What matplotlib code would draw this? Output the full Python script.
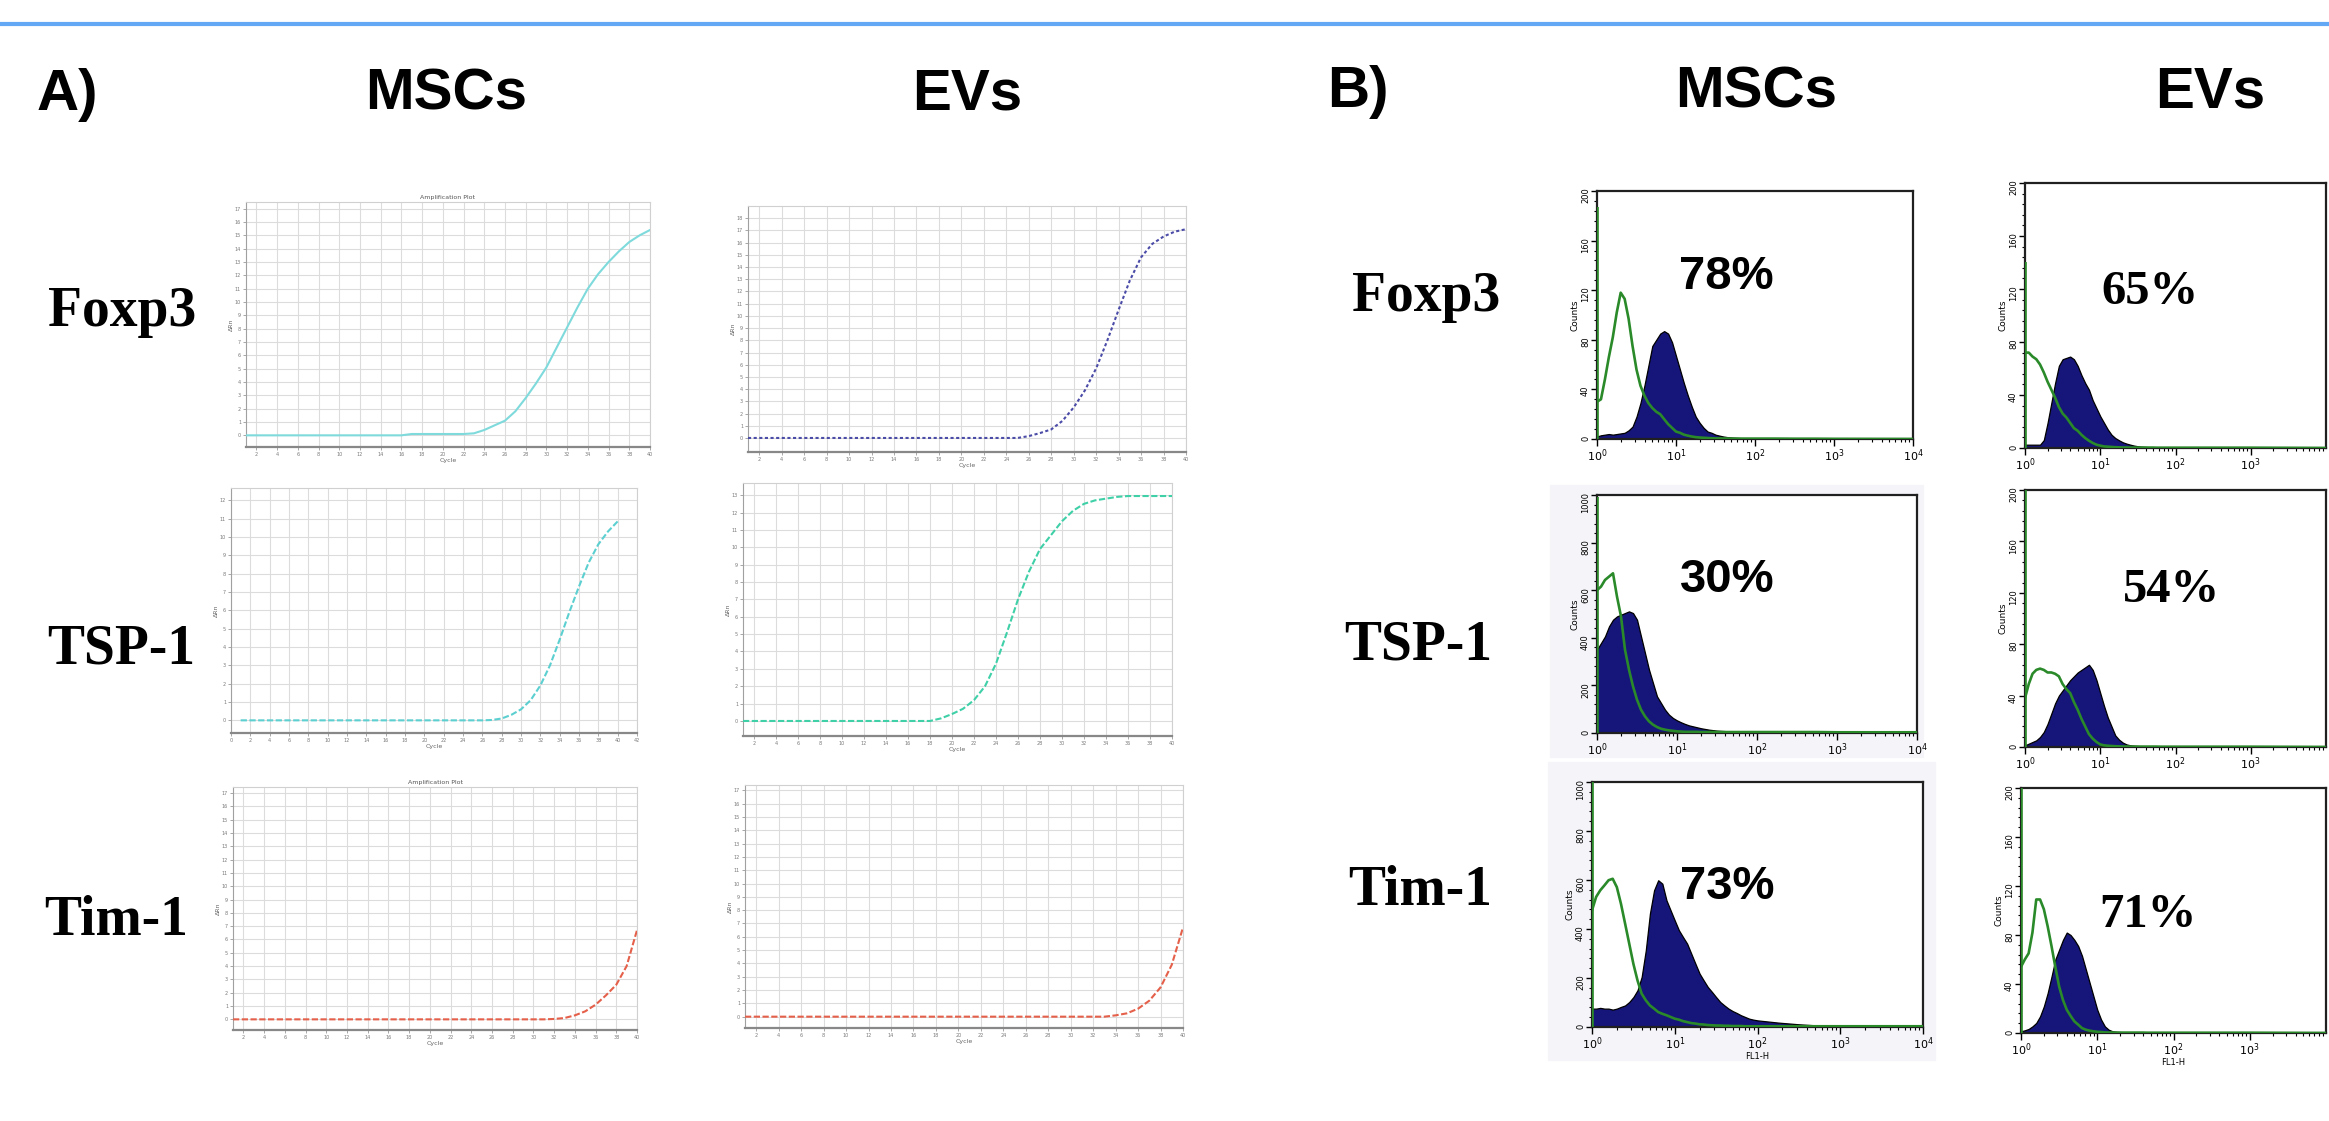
import numpy as np
import matplotlib
matplotlib.use("Agg")
import matplotlib.pyplot as plt
from matplotlib.patches import Rectangle
from matplotlib.ticker import FixedLocator, LogLocator, NullFormatter

W, H = 2329, 1121

genes = ["Foxp3", "TSP-1", "Tim-1"]
sources = ["MSCs", "EVs"]

# ---- A) qPCR amplification plots: delta Rn per cycle (in gridline units) ----
cycles = np.arange(1, 41)

foxp3_msc_rn = [0] * 16 + [0.1] * 6 + [0.15, 0.4, 0.75, 1.1, 1.8, 2.8, 3.9, 5.1, 6.6,
                                       8.1, 9.6, 11.0, 12.1, 13.0, 13.8, 14.5, 15.0, 15.4]
foxp3_ev_rn = [0] * 25 + [0.15, 0.4, 0.7, 1.4, 2.5, 3.9, 5.7, 8.0, 10.5, 12.9,
                          14.8, 15.9, 16.5, 16.9, 17.1]
tsp1_msc_rn = [0] * 26 + [0.02, 0.1, 0.3, 0.6, 1.1, 1.9, 3.0, 4.4, 5.9, 7.3,
                          8.6, 9.6, 10.3, 10.85]
tsp1_ev_rn = [0] * 18 + [0.15, 0.4, 0.7, 1.2, 2.0, 3.3, 5.1, 7.0, 8.6, 9.9, 10.7,
                         11.5, 12.1, 12.5, 12.7, 12.8, 12.9] + [12.95] * 5
tim1_msc_rn = [0] * 31 + [0.03, 0.1, 0.3, 0.6, 1.1, 1.8, 2.6, 4.0, 6.7]
tim1_ev_rn = [0] * 33 + [0.1, 0.25, 0.6, 1.2, 2.2, 3.9, 6.7]

# ---- B) flow cytometry histograms: counts per log10 channel ----
log_fl = np.concatenate([np.linspace(0, 2, 41), [2.25, 2.5, 2.75, 3.0, 4.0]])

foxp3_msc_iso = [30, 32, 48, 66, 82, 102, 118, 113, 97, 75, 56, 43, 35, 29, 25, 22, 20,
                 16, 12, 9, 6, 5, 3.5, 2.7, 2, 1.5, 1.2, 1, 0.8, 0.6, 0.5, 0.5, 0.4,
                 0.4, 0.3, 0.3, 0.3, 0.3, 0.3, 0.3, 0.3, 0.3, 0.2, 0.2, 0.1, 0]
foxp3_msc_pos = [2, 3, 3.5, 4, 3.5, 4, 4.5, 5, 7, 10, 18, 29, 43, 59, 75, 80, 85, 87,
                 85, 78, 67, 56, 45, 35, 26, 18, 13, 9, 6, 5, 3.5, 2.7, 2, 1.5, 1.2,
                 1, 0.8, 0.6, 0.5, 0.3, 0.2, 0.1, 0, 0, 0, 0]
foxp3_ev_iso = [72, 72, 69, 67, 63, 57, 50, 44, 38, 31, 26, 23, 19, 15, 13, 10, 7.5,
                5.5, 3.8, 2.5, 1.8, 1.2, 1, 0.8, 0.6, 0.5, 0.4, 0.4, 0.3, 0.3, 0.3,
                0.3, 0.3, 0.3, 0.3, 0.2, 0.2, 0.2, 0.2, 0.2, 0.2, 0.2, 0.2, 0.2, 0.2, 0]
foxp3_ev_pos = [2.5, 2.5, 2.5, 2.5, 2.5, 6, 19, 34, 49, 62, 67, 68, 69, 67, 62, 55,
                49, 44, 36, 30, 24, 19, 14, 10, 7.5, 5.8, 4.3, 3.3, 2.5, 1.8, 1.3, 1,
                0.8, 0.6, 0.5, 0.4, 0.3, 0.2, 0.2, 0.1, 0.1, 0, 0, 0, 0, 0]
tsp1_msc_iso = [600, 615, 643, 657, 671, 573, 490, 350, 266, 196, 140, 98, 70, 49, 35,
                25, 18, 14, 11, 9, 7, 6, 5, 5, 5, 5, 4, 4, 4, 4, 4, 4, 4, 4, 4, 4, 4,
                4, 4, 4, 4, 4, 4, 4, 3, 3]
tsp1_msc_pos = [350, 378, 406, 448, 476, 490, 497, 504, 511, 504, 476, 406, 336, 266,
                210, 154, 126, 98, 77, 63, 53, 45, 38, 32, 28, 24, 20, 17, 14, 12, 10,
                9, 8, 7, 6, 5, 4, 4, 3, 3, 2, 1, 0.5, 0, 0, 0]
tsp1_ev_iso = [38, 49, 57, 60, 61, 60, 58, 58, 57, 55, 49, 45, 42, 35, 29, 22, 16, 10,
               6.5, 3.9, 2, 1.3, 1, 0.8, 0.6, 0.5, 0.4, 0.4, 0.3, 0.3, 0.3, 0.3, 0.3,
               0.3, 0.3, 0.3, 0.2, 0.2, 0.2, 0.2, 0.2, 0.2, 0.2, 0.2, 0.2, 0]
tsp1_ev_pos = [1.3, 2.6, 3.9, 5.2, 7.8, 11.7, 18, 26, 34, 40, 44, 48, 52, 55, 58, 60,
               62, 64, 60, 52, 42, 32, 23, 16, 9, 5.7, 3.4, 2, 1.3, 1, 0.8, 0.6, 0.5,
               0.4, 0.3, 0.3, 0.2, 0.2, 0.1, 0.1, 0.1, 0, 0, 0, 0, 0]
tim1_msc_iso = [476, 531, 558, 578, 599, 605, 571, 503, 422, 340, 258, 190, 136, 109,
                88, 75, 61, 54, 48, 41, 34, 30, 24, 20, 16, 14, 11, 10, 8, 7, 6, 6, 5,
                5, 4, 4, 4, 3, 3, 3, 3, 3, 3, 3, 3, 3]
tim1_msc_pos = [75, 75, 78, 75, 75, 71, 75, 82, 88, 102, 122, 150, 204, 313, 463, 558,
                599, 585, 517, 476, 435, 395, 367, 340, 299, 258, 218, 190, 163, 143,
                122, 102, 88, 75, 65, 57, 48, 41, 34, 30, 27, 18, 11, 6, 3, 0]
tim1_ev_iso = [54, 60, 65, 82, 109, 109, 101, 87, 71, 54, 38, 27, 19, 14, 9.5, 6.8, 4,
               2.7, 1.9, 1.4, 1, 0.8, 0.5, 0.4, 0.4, 0.3, 0.3, 0.3, 0.3, 0.3, 0.3, 0.3,
               0.3, 0.2, 0.2, 0.2, 0.2, 0.2, 0.2, 0.2, 0.2, 0.2, 0.2, 0.2, 0.2, 0]
tim1_ev_pos = [1.4, 2.2, 3.3, 5.4, 8.2, 13.6, 21.8, 32.7, 46, 60, 68, 76, 82, 80, 76,
               71, 63, 52, 41, 30, 19, 11, 5.4, 2.7, 1.4, 1, 0.8, 0.5, 0.3, 0.3, 0.2,
               0.2, 0.2, 0.1, 0.1, 0.1, 0.1, 0.1, 0.1, 0.1, 0.1, 0, 0, 0, 0, 0]

iso_spike_msc = [187, 990, 1000]
iso_spike_ev = [140, 200, 200]
pct_msc = [78, 30, 73]
pct_ev = [65, 54, 71]


def px_axes(fig, x0, y0, x1, y1):
    return fig.add_axes([x0 / W, 1 - y1 / H, (x1 - x0) / W, (y1 - y0) / H])


def qpcr_panel(fig, box, values, xlim, ylim, color, ls, title=None):
    ax = px_axes(fig, *box)
    ax.plot(cycles, values, color=color, lw=1.5, linestyle=ls, zorder=3)
    ax.set_xlim(xlim)
    ax.set_ylim(ylim)
    xt = np.arange(np.ceil(xlim[0] / 2) * 2, xlim[1] + 0.1, 2)
    ax.xaxis.set_major_locator(FixedLocator(xt))
    ax.yaxis.set_major_locator(FixedLocator(np.arange(0, ylim[1], 1)))
    ax.set_xticklabels([f"{int(v)}" for v in xt])
    ax.grid(True, color="#dcdcdc", lw=0.8)
    ax.set_axisbelow(True)
    ax.tick_params(labelsize=3.5, labelcolor="#7a7a7a", length=2,
                   color="#999999", width=0.6, pad=1.5)
    for side in ["top", "right"]:
        ax.spines[side].set_color("#d0d0d0")
    ax.spines["left"].set_color("#a0a0a0")
    ax.spines["bottom"].set_color("#888888")
    ax.spines["bottom"].set_linewidth(1.6)
    ax.set_xlabel("Cycle", fontsize=4.5, color="#666666", labelpad=1)
    ax.set_ylabel("ΔRn", fontsize=4.5, color="#666666", labelpad=1)
    if title:
        ax.set_title(title, fontsize=4.5, color="#555555", pad=2)
    return ax


def flow_panel(fig, box, iso, pos, spike, ymax, pct, serif, xlabel=False):
    ax = px_axes(fig, *box)
    x = 10 ** log_fl
    ax.fill_between(x, pos, color="#15157a", edgecolor="#000000", lw=0.9, zorder=2)
    ax.plot(x, iso, color="#2a8a2a", lw=1.9, zorder=3)
    ax.vlines(1.0, 0, spike, color="#2a8a2a", lw=2.6, zorder=4)
    ax.set_xscale("log")
    ax.set_xlim(1, 1e4)
    ax.set_ylim(0, ymax)
    ax.yaxis.set_major_locator(FixedLocator(np.linspace(0, ymax, 6)))
    ax.yaxis.set_minor_locator(FixedLocator(np.linspace(0, ymax, 26)))
    if serif:
        # EV panels run off the right edge of the figure: no 10^4 label
        ax.xaxis.set_major_locator(FixedLocator([1, 10, 100, 1000]))
    else:
        ax.xaxis.set_major_locator(LogLocator(base=10, numticks=6))
    ax.xaxis.set_minor_locator(LogLocator(base=10, subs=np.arange(2, 10), numticks=20))
    ax.xaxis.set_minor_formatter(NullFormatter())
    ax.tick_params(axis="y", labelsize=6, labelrotation=90, length=4, width=1, pad=1)
    ax.tick_params(axis="x", labelsize=8, length=5, width=1, pad=1)
    ax.tick_params(which="minor", length=2.5, width=0.8)
    for s in ax.spines.values():
        s.set_linewidth(1.6)
        s.set_color("#202020")
    ax.set_ylabel("Counts", fontsize=6.5, labelpad=1)
    if xlabel:
        ax.set_xlabel("FL1-H", fontsize=6, labelpad=0)
    if serif:
        ax.text(*pct[1], f"{pct[0]}%", transform=ax.transAxes, ha="center",
                va="center", fontsize=35, fontweight="bold", family="Liberation Serif")
    else:
        ax.text(*pct[1], f"{pct[0]}%", transform=ax.transAxes, ha="center",
                va="center", fontsize=34, fontweight="bold", family="Liberation Sans")
    return ax


fig = plt.figure(figsize=(W / 100, H / 100), dpi=100)
fig.patch.set_facecolor("white")

# top rule
fig.add_artist(plt.Line2D([0, 1], [1 - 24 / H, 1 - 24 / H], color="#62a8f4",
                          lw=3, transform=fig.transFigure))

# light background behind scanned MSC histograms
fig.add_artist(Rectangle((1550 / W, 1 - 757 / H), 373 / W, 272 / H,
                         transform=fig.transFigure, color="#f5f5f9", zorder=0))
fig.add_artist(Rectangle((1548 / W, 1 - 1060 / H), 387 / W, 298 / H,
                         transform=fig.transFigure, color="#f5f5f9", zorder=0))

# A) qPCR
qpcr_panel(fig, (246, 202, 650, 447), foxp3_msc_rn, (1, 40), (-0.875, 17.5),
           "#7fdadc", "-", title="Amplification Plot")
qpcr_panel(fig, (231, 488, 637, 733), tsp1_msc_rn, (0, 42), (-0.69, 12.67),
           "#5ccfd0", (0, (3, 1.2)))
qpcr_panel(fig, (233, 787, 637, 1030), tim1_msc_rn, (1, 40), (-0.8, 17.45),
           "#e5604a", (0, (3, 1.2)), title="Amplification Plot")
qpcr_panel(fig, (748, 206, 1186, 452), foxp3_ev_rn, (1, 40), (-1.15, 19.0),
           "#4b4ba8", (0, (1.5, 1.2)))
qpcr_panel(fig, (743, 483, 1172, 736), tsp1_ev_rn, (1, 40), (-0.865, 13.7),
           "#3fd0a8", (0, (3, 1.2)))
qpcr_panel(fig, (745, 785, 1183, 1028), tim1_ev_rn, (1, 40), (-0.85, 17.4),
           "#e5604a", (0, (3, 1.2)))

# B) flow cytometry
flow_panel(fig, (1597, 191, 1913, 439), foxp3_msc_iso, foxp3_msc_pos, iso_spike_msc[0],
           200, (pct_msc[0], (0.41, 0.653)), False)
flow_panel(fig, (1597, 495, 1917, 733), tsp1_msc_iso, tsp1_msc_pos, iso_spike_msc[1],
           1000, (pct_msc[1], (0.406, 0.643)), False)
flow_panel(fig, (1592, 782, 1923, 1027), tim1_msc_iso, tim1_msc_pos, iso_spike_msc[2],
           1000, (pct_msc[2], (0.408, 0.571)), False, xlabel=True)
flow_panel(fig, (2025, 183, 2326, 448), foxp3_ev_iso, foxp3_ev_pos, iso_spike_ev[0],
           200, (pct_ev[0], (0.415, 0.589)), True)
flow_panel(fig, (2025, 490, 2326, 747), tsp1_ev_iso, tsp1_ev_pos, iso_spike_ev[1],
           200, (pct_ev[1], (0.488, 0.611)), True)
flow_panel(fig, (2021, 788, 2326, 1033), tim1_ev_iso, tim1_ev_pos, iso_spike_ev[2],
           200, (pct_ev[2], (0.416, 0.482)), True, xlabel=True)

# headers
def ftext(x, y, s, **kw):
    fig.text(x / W, 1 - y / H, s, ha="center", va="center", **kw)

head = dict(fontsize=42, fontweight="bold", family="Liberation Sans")
ftext(67, 95, "A)", **head)
ftext(446, 94, sources[0], **head)
ftext(967, 94, sources[1], **head)
ftext(1358, 92, "B)", **head)
ftext(1756, 92, sources[0], **head)
ftext(2210, 92, sources[1], **head)

row = dict(fontsize=40, fontweight="bold", family="Liberation Serif")
for g, ya, yb, xa, xb in zip(genes, [312, 649, 921], [297, 646, 891],
                             [122, 121, 116], [1426, 1418, 1420]):
    ftext(xa, ya, g, **row)
    ftext(xb, yb, g, **row)

fig.savefig("out.png", dpi=100)
